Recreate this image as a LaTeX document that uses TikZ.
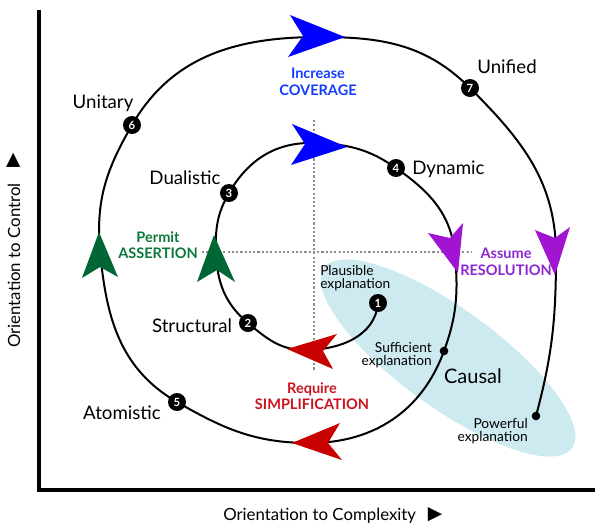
\documentclass[tikz,border=0pt]{standalone}
\usepackage{fontspec}
\setmainfont{Lato}
\newfontfamily\symfont{DejaVu Sans}
\definecolor{cblue}{RGB}{0,0,255}
\definecolor{cbluetext}{RGB}{20,60,255}
\definecolor{cgreen}{RGB}{0,102,51}
\definecolor{cgreentext}{RGB}{10,120,60}
\definecolor{cpurple}{RGB}{160,20,210}
\definecolor{cpurpletext}{RGB}{140,40,210}
\definecolor{cred}{RGB}{200,0,0}
\definecolor{credtext}{RGB}{200,20,30}
\definecolor{cell}{RGB}{205,234,241}
\begin{document}
\begin{tikzpicture}[x=0.75pt,y=0.75pt,
  lbl/.style={font=\fontsize{14}{16}\selectfont, inner sep=0pt, anchor=base},
  small/.style={font=\fontsize{10.3}{10.2}\selectfont, inner sep=0pt},
  act/.style={font=\bfseries\fontsize{10.9}{12.6}\selectfont, inner sep=0pt, align=center, anchor=north},
  numdot/.style={circle, fill=black, inner sep=0pt, minimum size=13.5pt, text=white, font=\bfseries\fontsize{8.5}{8.5}\selectfont},
  smalldot/.style={circle, fill=black, inner sep=0pt, minimum size=6.5pt},
  spiral/.style={line width=1.5pt, black},
  guide/.style={black!45, line width=0.8pt, dash pattern=on 1.6pt off 1.6pt},
  axisline/.style={line width=3pt, black},
  axislbl/.style={font=\fontsize{12.6}{14}\selectfont, inner sep=0pt, anchor=base west},
  tri/.style={font=\symfont\fontsize{14}{14}\selectfont, inner sep=0pt},
]
\useasboundingbox (0,0) rectangle (600,-532);
% ellipse
\fill[cell, rotate around={-36:(448,-358)}] (448,-358) ellipse (115pt and 37pt);
% guides
\coordinate (vtop) at (314,-120); \coordinate (vbot) at (314,-370);
\coordinate (hl) at (202,-252); \coordinate (hr) at (472,-252);
\draw[guide] (vtop) -- (vbot);
\draw[guide] (hl) -- (hr);
% axes
\coordinate (ytop) at (39,-10); \coordinate (org) at (39,-490); \coordinate (xend) at (595,-490);
\draw[axisline] (ytop) -- (org) -- (xend);
% spiral points
\coordinate (c1) at (378,-303);
\coordinate (r1) at (305,-350);
\coordinate (c2) at (248,-323);
\coordinate (g1) at (216,-252);
\coordinate (c3) at (229,-193);
\coordinate (b1) at (315,-143);
\coordinate (c4) at (396,-168);
\coordinate (p1) at (455,-255);
\coordinate (s1) at (444,-351);
\coordinate (r2) at (310,-443);
\coordinate (c5) at (177,-402);
\coordinate (g2) at (100,-250);
\coordinate (c6) at (132,-125);
\coordinate (b2) at (320,-37);
\coordinate (c7) at (470,-88);
\coordinate (p2) at (556,-255);
\coordinate (e1) at (536,-416);
\draw[spiral] (c1) to[out=-95,in=0] (r1) to[out=180,in=-40] (c2)
  to[out=140,in=-88] (g1) to[out=92,in=-120] (c3) to[out=60,in=178] (b1)
  to[out=-2,in=145] (c4) to[out=-35,in=95] (p1) to[out=-85,in=70] (s1)
  to[out=-110,in=0] (r2) to[out=180,in=-30] (c5) to[out=150,in=-85] (g2)
  to[out=95,in=-120] (c6) to[out=60,in=180] (b2) to[out=0,in=135] (c7)
  to[out=-45,in=90] (p2) to[out=-90,in=75] (e1);
% arrowheads
\fill[cblue] (345,-37) -- (290,-15) -- (303,-36) -- (288,-57) -- cycle;
\fill[cblue] (347,-147) -- (292,-124) -- (305,-144) -- (291,-165) -- cycle;
\fill[cpurple] (458,-273) -- (428,-233) -- (450,-238) -- (463,-223) -- cycle;
\fill[cpurple] (555,-275) -- (535,-230) -- (555,-238) -- (570,-227) -- cycle;
\fill[cgreen] (99,-232) -- (82,-278) -- (100,-267) -- (118,-277) -- cycle;
\fill[cgreen] (214,-235) -- (197,-282) -- (217,-270) -- (235,-282) -- cycle;
\fill[cred] (287,-349) -- (337,-334) -- (323,-351) -- (333,-369) -- cycle;
\fill[cred] (292,-443) -- (340,-423) -- (328,-443) -- (342,-460) -- cycle;
% numbered points
\node[numdot] (n1) at (c1) {1};
\node[numdot] (n2) at (c2) {2};
\node[numdot] (n3) at (c3) {3};
\node[numdot] (n4) at (c4) {4};
\node[numdot] (n5) at (c5) {5};
\node[numdot] (n6) at (c6) {6};
\node[numdot] (n7) at (c7) {7};
\node[smalldot] (suf) at (s1) {};
\node[smalldot] (pow) at (e1) {};
% labels
\node[lbl] (lunit) at (103,-108) {Unitary};
\node[lbl] (ldual) at (185,-184) {Dualistic};
\node[lbl, anchor=base west] (ldyn) at (412,-174) {Dynamic};
\node[lbl] (lunif) at (507,-73) {Unified};
\node[lbl] (lstruct) at (192,-332) {Structural};
\node[lbl] (latom) at (122,-419) {Atomistic};
\node[lbl, font=\fontsize{15}{17}\selectfont] (lcausal) at (473,-383) {Causal};
\node[small, align=left, anchor=north west] (lplaus) at (320,-265) {Plausible\\explanation};
\node[small, align=right, anchor=north east] (lsuff) at (432,-342) {Sufficient\\explanation};
\node[small, align=right, anchor=north east] (lpow) at (528,-418) {Powerful\\explanation};
\node[act, text=cbluetext] (linc) at (318,-68) {Increase\\COVERAGE};
\node[act, text=cgreentext] (lperm) at (158,-231) {Permit\\ASSERTION};
\node[act, text=cpurpletext] (lass) at (506,-248) {Assume\\RESOLUTION};
\node[act, text=credtext] (lreq) at (312,-382) {Require\\SIMPLIFICATION};
% axis labels
\node[axislbl] (xlbl) at (223,-520) {Orientation to Complexity};
\node[tri] (xtri) at (435,-515) {▶};
\node[axislbl, rotate=90] (ylbl) at (20,-348) {Orientation to Control};
\node[tri, rotate=90] (ytri) at (14,-160) {▶};
\end{tikzpicture}
\end{document}
